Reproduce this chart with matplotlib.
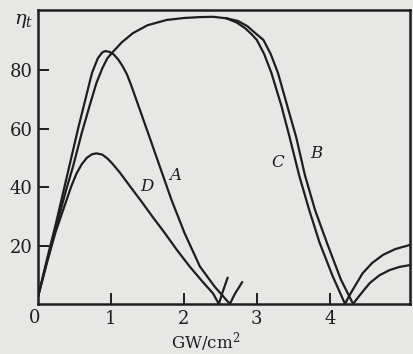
import matplotlib
matplotlib.use("Agg")
import matplotlib.pyplot as plt
import numpy as np

# curve A
a_x = [0, 0.12, 0.25, 0.4, 0.55, 0.65, 0.74, 0.82, 0.88, 0.92, 0.98, 1.04, 1.1, 1.16, 1.22, 1.28,
       1.35, 1.51, 1.67, 1.83, 2.01, 2.22, 2.42, 2.63, 2.70, 2.80]
a_y = [2.5, 15, 28, 44, 60, 70, 79, 84, 86, 86.5, 86.2, 85.3, 83.6, 81.3, 78.5, 74.6,
       69.7, 58.4, 47, 35.6, 24.2, 12.8, 6, 0, 3.5, 7.5]

# curve D
d_x = [0, 0.12, 0.24, 0.37, 0.46, 0.53, 0.6, 0.67, 0.74, 0.8, 0.88, 0.95, 1.02, 1.12, 1.26,
       1.42, 1.58, 1.74, 1.91, 2.08, 2.25, 2.40, 2.48, 2.53, 2.60]
d_y = [2.5, 14, 24.5, 34, 40.5, 44.7, 47.8, 50, 51.2, 51.5, 51.1, 49.8, 48, 45, 40.3,
       35, 29.5, 24.2, 18.3, 12.8, 7.8, 3.6, 0, 4, 9]

# B and C share the rising branch
bc_x = [0, 0.12, 0.25, 0.38, 0.48, 0.6, 0.71, 0.8, 0.88, 0.95, 1.03, 1.15, 1.3, 1.5, 1.76,
        2.0, 2.22, 2.4, 2.58]
bc_y = [2.5, 14, 26.5, 38.5, 47, 58.5, 68, 75.5, 80.5, 84, 86.3, 89.5, 92.6, 95.3, 97.1,
        97.8, 98.1, 98.2, 97.7]

c_x = [2.58, 2.72, 2.84, 2.93, 3.0, 3.1, 3.2, 3.34, 3.45, 3.58, 3.72, 3.86, 4.04, 4.21,
       4.26, 4.33, 4.45, 4.58, 4.73, 4.9, 5.1]
c_y = [97.7, 96.3, 94.3, 92.2, 90.3, 85.5, 79, 67.5, 57, 44, 32, 21, 9.5, 0,
       2.5, 5.5, 10.5, 14, 16.8, 18.8, 20.2]

b_x = [2.58, 2.74, 2.87, 2.98, 3.09, 3.19, 3.29, 3.42, 3.54, 3.66, 3.8, 3.96, 4.15, 4.32,
       4.38, 4.46, 4.55, 4.68, 4.82, 4.96, 5.1]
b_y = [97.7, 96.8, 95, 92.6, 90.3, 85.5, 79, 67.5, 57, 44, 32, 21, 8.5, 0,
       2, 4.5, 7.2, 9.8, 11.6, 12.7, 13.3]

labels = {"A": (1.88, 44.1), "D": (1.49, 40.1), "C": (3.29, 48.5), "B": (3.82, 51.5)}

bg = "#e7e7e5"
ink = "#1e1e1e"
serif = "DejaVu Serif"
plt.rcParams["mathtext.fontset"] = "dejavuserif"

fig = plt.figure(figsize=(4.13, 3.54), dpi=100, facecolor=bg)
ax = fig.add_axes([38 / 413, 50 / 354, 372 / 413, 294.5 / 354])
ax.set_facecolor(bg)

for xs, ys in [(a_x, a_y), (d_x, d_y), (bc_x, bc_y), (c_x, c_y), (b_x, b_y)]:
    ax.plot(xs, ys, color=ink, lw=1.6, solid_capstyle="round", solid_joinstyle="round")

for name, (lx, ly) in labels.items():
    ax.text(lx, ly, name, fontsize=12, style="italic", family=serif,
            color=ink, ha="center", va="center")

ax.set_xlim(0, 5.1)
ax.set_ylim(0, 100.7)
ax.set_xticks([1, 2, 3, 4])
ax.set_yticks([20, 40, 60, 80])
ax.tick_params(direction="in", length=8, width=1.4, colors=ink, labelsize=13, pad=4)
for lab in ax.get_xticklabels() + ax.get_yticklabels():
    lab.set_family(serif)
for s in ax.spines.values():
    s.set_linewidth(1.8)
    s.set_color(ink)

fig.text(35 / 413, 1 - 318 / 354, "0", fontsize=13, family=serif,
         color=ink, ha="center", va="center")
fig.text(24 / 413, 1 - 20 / 354, r"$\eta_t$", fontsize=14, color=ink, ha="center", va="center")
fig.text(206 / 413, 1 - 342 / 354, "GW/cm$^2$", fontsize=12, family=serif,
         color=ink, ha="center", va="center")

plt.savefig("out.png", dpi=100, facecolor=bg)
plt.close()
